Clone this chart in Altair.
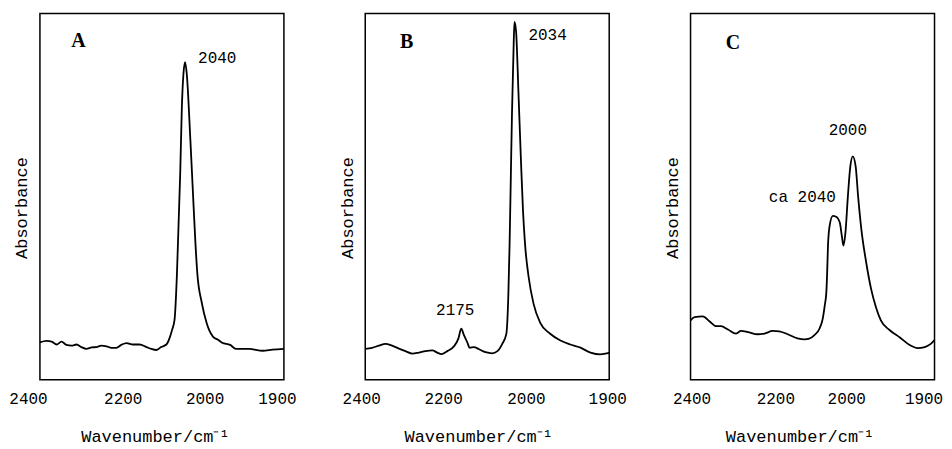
import altair as alt
import pandas as pd

# ---------------- data ----------------
TICKS = [2400, 2200, 2000, 1900]

# Panel A
a_wn = [2400, 2384, 2371, 2359, 2347, 2335, 2322, 2310, 2298, 2286,
        2273, 2261, 2249, 2236, 2224, 2212, 2200, 2187, 2171, 2155,
        2138, 2126, 2114, 2102, 2089, 2081, 2075, 2069, 2063, 2059,
        2055, 2051, 2047, 2043, 2039, 2030, 2024, 2018, 2013, 2002,
        1995, 1992, 1987, 1981, 1976, 1966, 1959, 1943, 1926, 1914,
        1900]
a_abs = [0.102, 0.106, 0.104, 0.096, 0.104, 0.095, 0.093, 0.096, 0.089, 0.084,
         0.088, 0.089, 0.093, 0.091, 0.087, 0.087, 0.095, 0.100, 0.096, 0.096,
         0.089, 0.084, 0.081, 0.089, 0.096, 0.114, 0.136, 0.163, 0.291, 0.427,
         0.564, 0.743, 0.836, 0.867, 0.836, 0.654, 0.517, 0.381, 0.291, 0.210,
         0.155, 0.136, 0.117, 0.109, 0.101, 0.095, 0.084, 0.084, 0.079, 0.082,
         0.084]
a_label_text = ["2040"]
a_label_wn = [2043]
a_label_abs = [0.867]

# Panel B
b_wn = [2400, 2383, 2366, 2350, 2334, 2317, 2301, 2284, 2268, 2252,
        2235, 2223, 2213, 2198, 2182, 2171, 2164, 2157, 2149, 2143,
        2133, 2120, 2104, 2088, 2075, 2063, 2053, 2048, 2045, 2042,
        2039, 2035, 2033, 2029, 2023, 2017, 2012, 2007, 1999, 1993,
        1985, 1973, 1960, 1948, 1936, 1923, 1911, 1900]
b_abs = [0.084, 0.087, 0.093, 0.098, 0.093, 0.085, 0.078, 0.071, 0.074, 0.078,
         0.080, 0.074, 0.070, 0.078, 0.091, 0.112, 0.139, 0.121, 0.102, 0.087,
         0.089, 0.083, 0.075, 0.072, 0.078, 0.098, 0.125, 0.234, 0.370, 0.551,
         0.733, 0.914, 0.977, 0.950, 0.778, 0.597, 0.461, 0.370, 0.279, 0.207,
         0.156, 0.126, 0.107, 0.096, 0.088, 0.074, 0.069, 0.073]
b_label_text = ["2034", "2175"]
b_label_wn = [2033, 2164]
b_label_abs = [0.977, 0.139]

# Panel C
c_wn = [2400, 2390, 2370, 2353, 2337, 2325, 2308, 2288, 2276, 2259,
        2235, 2218, 2198, 2182, 2161, 2137, 2120, 2108, 2096, 2083,
        2075, 2070, 2066, 2064, 2062, 2058, 2050, 2042, 2033, 2028,
        2024, 2019, 2013, 2007, 2001, 1997, 1994, 1990, 1984, 1978,
        1972, 1966, 1955, 1943, 1930, 1921, 1912, 1905, 1900]
c_abs = [0.162, 0.171, 0.173, 0.159, 0.146, 0.146, 0.137, 0.126, 0.133, 0.130,
         0.124, 0.126, 0.133, 0.132, 0.124, 0.113, 0.110, 0.112, 0.121, 0.139,
         0.166, 0.202, 0.239, 0.293, 0.366, 0.420, 0.447, 0.445, 0.429, 0.393,
         0.366, 0.402, 0.502, 0.583, 0.610, 0.583, 0.502, 0.411, 0.320, 0.248,
         0.198, 0.162, 0.135, 0.116, 0.094, 0.086, 0.089, 0.097, 0.108]
c_label_text = ["2000", "ca 2040"]
c_label_wn = [2001, 2050]
c_label_abs = [0.610, 0.447]

# ---------------- styling ----------------
W = 244.5
H = 367
MONO = "Liberation Mono"
SERIF = "Liberation Serif"

# spectrometer scale change at 2000 cm-1 (piecewise linear axis)
xscale = alt.Scale(domain=[2400, 2000, 1900], range=[0, W * 2 / 3, W],
                   nice=False, zero=False)
yscale = alt.Scale(domain=[0, 1], nice=False, zero=False)

yaxis = alt.Axis(title="Absorbance", labels=False, ticks=False, domain=False,
                 grid=False, titleFont=MONO, titleFontSize=17,
                 titleFontWeight="normal", titleColor="black",
                 titlePadding=9, titleY=H / 2 + 11)


def make_xaxis(label_shift, title_shift):
    cond = [{"test": f"datum.value == {v}", "value": s}
            for v, s in label_shift.items()]
    return alt.Axis(values=TICKS, format="d", title="Wavenumber/cm⁻¹",
                    ticks=False, domain=False, grid=False,
                    labelFlush=False, labelOverlap=False, labelPadding=11,
                    labelOffset={"condition": cond, "value": 0},
                    labelFont=MONO, labelFontSize=16, labelColor="black",
                    titleFont=MONO, titleFontSize=17, titleFontWeight="normal",
                    titleColor="black", titlePadding=22,
                    titleX=W / 2 + title_shift)


def panel(wn, ab, letter, letter_pos, texts, twn, tabs, offsets, xaxis):
    df = pd.DataFrame({"wn": wn, "a": ab})
    x = alt.X("wn:Q", scale=xscale, axis=xaxis)
    y = alt.Y("a:Q", scale=yscale, axis=yaxis)
    layers = [
        alt.Chart(df).mark_line(color="black", strokeWidth=1.8,
                                interpolate="monotone").encode(x=x, y=y)
    ]
    layers.append(
        alt.Chart(pd.DataFrame({"t": [letter]})).mark_text(
            font=SERIF, fontWeight="bold", fontSize=20, color="black",
            align="center", baseline="middle"
        ).encode(text="t:N", x=alt.value(letter_pos[0]), y=alt.value(letter_pos[1]))
    )
    for t, w, a, (align, dx, dy) in zip(texts, twn, tabs, offsets):
        ldf = pd.DataFrame({"wn": [w], "a": [a], "t": [t]})
        layers.append(
            alt.Chart(ldf).mark_text(
                font=MONO, fontSize=16, color="black", align=align,
                baseline="middle", dx=dx, dy=dy
            ).encode(x=alt.X("wn:Q", scale=xscale), y=alt.Y("a:Q", scale=yscale),
                     text="t:N")
        )
    return alt.layer(*layers).properties(width=W, height=H)


pa = panel(a_wn, a_abs, "A", (38.5, 28), a_label_text, a_label_wn, a_label_abs,
           [("left", 13, -4)],
           make_xaxis({2400: -12, 2200: 1.5, 2000: 2, 1900: -7}, -7))
pb = panel(b_wn, b_abs, "B", (41.5, 29), b_label_text, b_label_wn, b_label_abs,
           [("left", 14, 13), ("center", -6, -19)],
           make_xaxis({2400: -4, 2200: -3.5, 2000: -2, 1900: -2}, -9))
pc = panel(c_wn, c_abs, "C", (42.5, 30), c_label_text, c_label_wn, c_label_abs,
           [("center", -5, -26), ("right", 3, -19)],
           make_xaxis({2400: 1, 2200: 3.5, 2000: -7, 1900: -11}, -13))

chart = alt.hconcat(pa, pb, pc, spacing=81, bounds="flush").properties(
    padding={"left": 0, "top": 4, "right": 0, "bottom": 0}
).configure_view(stroke="black", strokeWidth=1.5)

chart.save("out.html", embed_options={"renderer": "svg", "actions": False})
